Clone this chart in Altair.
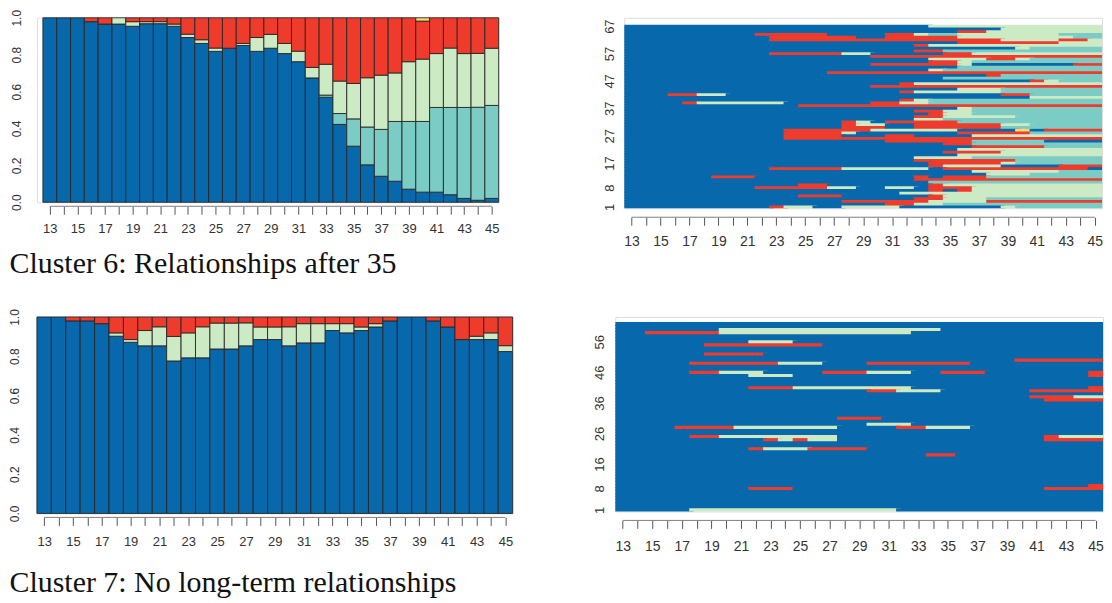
import altair as alt
import pandas as pd

AGES = list(range(13, 46))

STATE_CODES = ["B", "T", "G", "R", "Y"]
STATE_COLORS = ["#0868AC", "#7BCCC4", "#CCEBC5", "#EF3B2C", "#FED976"]

TITLE6 = "Cluster 6: Relationships after 35"
TITLE7 = "Cluster 7: No long-term relationships"

# ---- Cluster 6: state distribution by age (13..45)
C6_BLUE = [1, 1, 1, .979, .966, .966, .954, .968, .968, .954, .893, .861, .818, .835, .850, .818,
           .835, .806, .762, .674, .569, .422, .304, .203, .141, .114, .071, .055, .055, .041, .021, .011, .021]
C6_TEAL = [0, 0, 0, 0, 0, 0, 0, 0, 0, 0, 0, 0, 0, 0, 0, 0, 0, 0, 0, 0,
           .012, .059, .148, .205, .254, .324, .367, .383, .459, .473, .493, .504, .504]
C6_GREEN = [0, 0, 0, 0, 0, .034, .025, .011, .011, .012, .018, .020, .018, 0, .011, .075, .075, .055,
            .057, .057, .167, .176, .192, .267, .294, .263, .324, .338, .292, .322, .292, .292, .310]
C6_RED = [0, 0, 0, .021, .034, 0, .021, .021, .021, .034, .089, .119, .164, .165, .139, .107, .090,
          .139, .181, .269, .252, .343, .356, .325, .311, .299, .238, .206, .194, .164, .194, .193, .165]
C6_YELLOW = [0, 0, 0, 0, 0, 0, 0, 0, 0, 0, 0, 0, 0, 0, 0, 0, 0, 0, 0, 0, 0, 0, 0, 0, 0, 0, 0,
             .018, 0, 0, 0, 0, 0]

# ---- Cluster 7: state distribution by age (13..45)
C7_BLUE = [1, 1, .980, .980, .966, .902, .871, .853, .853, .776, .792, .792, .837, .837, .853, .885,
           .885, .853, .868, .868, .931, .919, .931, .949, .980, 1, 1, .980, .949, .885, .885, .885, .824]
C7_GREEN = [0, 0, 0, 0, 0, .017, .014, .078, .097, .125, .127, .158, .132, .132, .117, .064, .064,
            .097, .098, .098, .035, .047, .018, .017, 0, 0, 0, 0, 0, 0, .017, .034, .030]
C7_RED = [0, 0, .020, .020, .034, .081, .115, .069, .050, .099, .081, .050, .031, .031, .030, .051,
          .051, .050, .034, .034, .034, .034, .051, .034, .020, 0, 0, .020, .051, .115, .098, .081, .146]

# ---- Cluster 6 sequences (state spells by age), listed from the top row (67) down to row 1
C6_SEQ = [
    "B13-33 G34-45",
    "B13-38 G39-45",
    "B13-35 R36-37 G38-45",
    "B13-21 R22-26 B27-30 R31-32 G33 T34-35 G36-42 T43-45",
    "B13-22 R23-28 B29-30 R31-35 G36-43 T44-45",
    "B13-22 R23-38 G39-42 R43-44 G45",
    "B13-35 R36-42 G43-45",
    "B13-32 R33 G34-45",
    "B13-39 G40 T41-45",
    "B13-32 R33-34 T35-45",
    "B13-22 R23-27 G28-29 B30-34 R35-36 G37-45",
    "B13-29 R30-45",
    "B13-33 G34-37 R38-39 G40 T41-45",
    "B13-33 R34-35 G36 T37-45",
    "B13-29 R30-35 G36 B37-43 R44-45",
    "B13-35 T36-45",
    "B13-33 G34 T35-45",
    "B13-26 R27-45",
    "B13-37 R38 T39-45",
    "B13-34 T35-45",
    "B13-40 R41 G42 T43-45",
    "B13-31 R32 G33-45",
    "B13-29 R30-45",
    "B13-35 G36-38 T39-45",
    "B13-31 R32 G33-38 T39-45",
    "B13-15 R16-17 G18-19 B20-38 R39-40 T41-45",
    "B13-40 G41-45",
    "B13-31 R32 G33 T34-45",
    "B13-16 R17 G18-23 B24-29 R30-31 G32-33 T34-45",
    "B13-24 R25-45",
    "B13-35 G36 T37-45",
    "B13-32 R33-34 G35-36 T37-45",
    "B13-33 R34 G35-36 T37-45",
    "B13-32 R33-34 G35-39 T40-45",
    "B13-32 G33-34 T35-45",
    "B13-27 R28 G29 B30 R31-35 T36-45",
    "B13-27 R28 G29-30 B31-32 R33-38 G39-40 T41-45",
    "B13-27 R28-30 B31-32 R33-38 T39-45",
    "B13-23 R24-29 G30-35 B36-39 Y40 B41 R42-45",
    "B13-23 R24-27 G28 B29-35 R36-40 T41-45",
    "B13-23 R24-27 B28-30 R31-32 B33-36 G37-45",
    "B13-23 R24-45",
    "B13-30 R31-36 T37-41 B42-45",
    "B13-34 R35-36 T37-45",
    "B13-36 R37-41 T42-45",
    "B13-35 G36-45",
    "B13-34 R35-38 G39-45",
    "B13-35 G36-45",
    "B13-32 G33-36 T37-45",
    "B13-32 R33-39 T40-45",
    "B13-33 R34-38 G39 T40-45",
    "B13-33 R34 G35-38 B39-42 R43-45",
    "B13-22 R23-27 G28-33 B34 R35-44 B45",
    "B13-36 G37-42 T43-45",
    "B13-37 G38-40 T41-45",
    "B13-18 R19-21 B22-32 R33 B34 R35-37 T38-45",
    "B13-32 R33-45",
    "B13-33 T34-45",
    "B13-24 R25-26 B27-33 R34 G35-45",
    "B13-21 R22-26 G27-28 B29-30 G31-32 B33 R34-36 G37-45",
    "B13-33 R34 B35 R36 G37-45",
    "B13-31 G32-45",
    "B13-24 R25-27 B28-33 R34 G35-45",
    "B13-32 R33-34 G35-37 T38-45",
    "B13-27 R28-33 G34-37 R38-45",
    "B13-30 R31-32 G33-34 T35-45",
    "B13-22 R23 G24-25 B26-27 G28-31 B32-38 G39 T40-45",
]
C6_YTICKS = [1, 8, 17, 27, 37, 47, 57, 67]

# ---- Cluster 7 sequences, listed from the top row (62) down to row 1
C7_SEQ = [
    "B13-45",
    "B13-45",
    "B13-19 G20-34 B35-45",
    "B13-14 R15-19 G20-32 B33-45",
    "B13-45",
    "B13-45",
    "B13-21 G22-24 B25-45",
    "B13-18 R19-26 B27-45",
    "B13-45",
    "B13-45",
    "B13-18 R19-22 B23-45",
    "B13-45",
    "B13-39 R40-45",
    "B13-17 R18-23 G24-26 B27-29 R30-36 B37-45",
    "B13-45",
    "B13-45",
    "B13-17 R18-19 G20-22 B23-26 R27-29 G30-32 B33-34 R35-37 B38-44 R45",
    "B13-21 G22-24 B25-44 R45",
    "B13-45",
    "B13-45",
    "B13-45",
    "B13-21 R22-24 G25-32 B33-44 R45",
    "B13-29 R30-31 G32-34 B35-40 R41-45",
    "B13-45",
    "B13-40 R41-43 G44-45",
    "B13-41 R42-45",
    "B13-45",
    "B13-45",
    "B13-45",
    "B13-45",
    "B13-45",
    "B13-27 R28-30 B31-45",
    "B13-45",
    "B13-29 G30-32 B33-45",
    "B13-16 R17-20 G21-27 B28-31 R32-33 G34-36 B37-45",
    "B13-45",
    "B13-45",
    "B13-17 R18-19 G20-27 B28-41 R42 G43-45",
    "B13-22 R23 G24 R25 G26-27 B28-41 R42-45",
    "B13-45",
    "B13-45",
    "B13-21 R22 G23-25 R26-29 B30-45",
    "B13-45",
    "B13-33 R34-35 B36-45",
    "B13-45",
    "B13-45",
    "B13-45",
    "B13-45",
    "B13-45",
    "B13-45",
    "B13-45",
    "B13-45",
    "B13-45",
    "B13-44 R45",
    "B13-21 R22-24 B25-41 R42-45",
    "B13-45",
    "B13-45",
    "B13-45",
    "B13-45",
    "B13-45",
    "B13-45",
    "B13-17 G18-31 B32-45",
]
C7_YTICKS = [1, 8, 16, 26, 36, 46, 56]

FONT_SANS = "Liberation Sans"
FONT_SERIF = "Liberation Serif"
COLOR_SCALE = alt.Scale(domain=STATE_CODES, range=STATE_COLORS)
OVERLAP = 0.3  # slight overlap of neighbouring cells hides anti-aliasing seams


def x_scale(left_extra=0.0):
    return alt.Scale(domain=[AGES[0] - 0.5 - left_extra, AGES[-1] + 0.5], nice=False, zero=False)


def x_axis(offset, label_pad, label_size, title=None, title_x=0, title_y=0, title_size=30):
    kw = dict(values=AGES, labelExpr="datum.value % 2 == 1 ? datum.label : ''",
              domain=False, ticks=True, tickSize=8, tickColor="#555555", tickWidth=1,
              labelFont=FONT_SANS, labelFontSize=label_size, labelColor="#333333",
              labelPadding=label_pad, labelOverlap=False, labelFlush=False, grid=False,
              offset=offset)
    if title:
        kw.update(title=title, titleFont=FONT_SERIF, titleFontSize=title_size,
                  titleFontWeight="normal", titleColor="#111111", titleX=title_x, titleY=title_y,
                  titleAlign="left", titleBaseline="alphabetic", titleAnchor="start", titleAngle=0)
    else:
        kw["title"] = None
    return alt.Axis(**kw)


def axis_line(height, offset, axis, scale):
    df = pd.DataFrame({"a": [AGES[0]], "b": [AGES[-1]]})
    return alt.Chart(df).mark_rule(color="#808080", strokeWidth=1).encode(
        x=alt.X("a:Q", scale=scale, axis=axis), x2="b:Q", y=alt.value(height + offset))


def dist_panel(series, width, height, left_extra, title, title_x, title_y, title_size,
               ylab_pad, xlab_pad):
    recs = []
    for i, age in enumerate(AGES):
        base = 0.0
        for code, vals in series:
            v = vals[i]
            if v > 0:
                recs.append(dict(age=age, state=code, x0=age - 0.5, x1=age + 0.5,
                                 y0=base, y1=min(base + v, 1.0)))
                base += v
    df = pd.DataFrame(recs)
    xs = x_scale(left_extra)
    xa = x_axis(4, xlab_pad, 13, title, title_x, title_y, title_size)
    bars = alt.Chart(df).mark_rect(stroke="#262626", strokeWidth=0.9).encode(
        x=alt.X("x0:Q", scale=xs, axis=xa),
        x2="x1:Q",
        y=alt.Y("y0:Q", scale=alt.Scale(domain=[0, 1], nice=False),
                axis=alt.Axis(values=[0, 0.2, 0.4, 0.6, 0.8, 1.0], format=".1f", labelAngle=270,
                              labelAlign="center", labelBaseline="bottom", ticks=False, tickSize=0,
                              domain=False, labelPadding=ylab_pad,
                              labelFont=FONT_SANS, labelFontSize=12, labelColor="#333333",
                              grid=False, title=None, labelFlush=False)),
        y2="y1:Q",
        color=alt.Color("state:N", scale=COLOR_SCALE, legend=None),
    )
    return alt.layer(bars, axis_line(height, 4, xa, xs)).properties(width=width, height=height)


def seq_panel(seq_rows, yticks, width, height, top_pad, ylab_pad, xlab_pad, x_off):
    n = len(seq_rows)
    recs = []
    for i, spec in enumerate(seq_rows):
        rid = n - i
        toks = spec.split()
        for j, tok in enumerate(toks):
            code, rng = tok[0], tok[1:]
            if "-" in rng:
                a, b = rng.split("-")
            else:
                a = b = rng
            x1 = int(b) + 0.5 + (OVERLAP if j < len(toks) - 1 else 0.0)
            y0 = rid - 0.5 - (OVERLAP if rid > 1 else 0.0)
            recs.append(dict(row=rid, state=code, x0=int(a) - 0.5, x1=x1, y0=y0, y1=rid + 0.5))
    df = pd.DataFrame(recs)
    xs = x_scale()
    xa = x_axis(x_off, xlab_pad, 14)
    rects = alt.Chart(df).mark_rect().encode(
        x=alt.X("x0:Q", scale=xs, axis=xa),
        x2="x1:Q",
        y=alt.Y("y0:Q", scale=alt.Scale(domain=[0.5, n + 0.5 + top_pad], nice=False, zero=False),
                axis=alt.Axis(values=yticks, labelAngle=270, labelAlign="center",
                              labelBaseline="bottom", ticks=False, tickSize=0, domain=False,
                              labelPadding=ylab_pad, labelFont=FONT_SANS, labelFontSize=13,
                              labelColor="#333333", grid=False, title=None, labelFlush=False)),
        y2="y1:Q",
        color=alt.Color("state:N", scale=COLOR_SCALE, legend=None),
    )
    return alt.layer(rects, axis_line(height, x_off, xa, xs)).properties(width=width, height=height)


# top-left plot starts 6px right of bottom-left plot: extend its age scale by 6/13.85 units
A = dist_panel([("B", C6_BLUE), ("T", C6_TEAL), ("G", C6_GREEN), ("R", C6_RED), ("Y", C6_YELLOW)],
               463, 185, 0.433, TITLE6, -28, 66, 30, 13, 8)
B = seq_panel(C6_SEQ, C6_YTICKS, 479, 191, 2.55, 8, 9, 9)
C = dist_panel([("B", C7_BLUE), ("G", C7_GREEN), ("R", C7_RED)],
               477, 197, 0.0, TITLE7, -28, 74, 30, 15, 10)
D = seq_panel(C7_SEQ, C7_YTICKS, 489, 195, 1.63, 9, 11, 9)

top = alt.hconcat(A, B, spacing=103)
bottom = alt.hconcat(C, D, spacing=79)
chart = alt.vconcat(top, bottom, spacing=29).properties(
    padding={"left": 0, "top": 0, "right": 0, "bottom": 0}
).configure_view(strokeWidth=0).configure(background="white")

chart.save("out.html", embed_options={"renderer": "svg", "actions": False})
